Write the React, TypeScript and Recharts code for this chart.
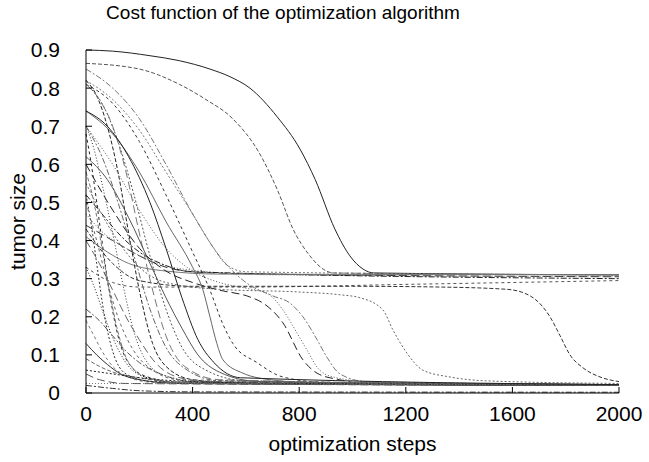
import { LineChart, Line, XAxis, YAxis } from "recharts";

const stepTicks = [0, 400, 800, 1200, 1600, 2000];
const sizeTicks = [0, 0.1, 0.2, 0.3, 0.4, 0.5, 0.6, 0.7, 0.8, 0.9];

// [step, tumor size] knots, one list per run

// runs that end on the upper plateau (~0.31)
const plateauRuns = [
  [[0, 0.9], [100, 0.897], [240, 0.885], [350, 0.872], [465, 0.85], [540, 0.83], [615, 0.8], [717, 0.725], [803, 0.64], [860, 0.56], [934, 0.43], [990, 0.36], [1040, 0.325], [1080, 0.315], [2000, 0.31]],
  [[0, 0.865], [200, 0.85], [350, 0.81], [450, 0.77], [550, 0.72], [650, 0.63], [720, 0.53], [777, 0.43], [840, 0.36], [890, 0.325], [930, 0.315], [2000, 0.31]],
  [[0, 0.82], [100, 0.77], [200, 0.69], [300, 0.58], [400, 0.47], [470, 0.39], [530, 0.335], [600, 0.318], [2000, 0.31]],
  [[0, 0.44], [100, 0.4], [200, 0.36], [300, 0.33], [400, 0.318], [600, 0.313], [2000, 0.305]],
  [[0, 0.47], [50, 0.43], [150, 0.38], [250, 0.345], [400, 0.322], [700, 0.31], [2000, 0.305]],
  [[0, 0.52], [60, 0.47], [120, 0.42], [200, 0.37], [280, 0.34], [400, 0.318], [2000, 0.3]],
  [[0, 0.33], [100, 0.29], [200, 0.278], [600, 0.278], [1200, 0.285], [2000, 0.295]],
  [[0, 0.41], [80, 0.37], [160, 0.34], [300, 0.32], [500, 0.312], [2000, 0.31]],
];

// runs that sit on a shoulder and drop late
const lateRuns = [
  [[0, 0.43], [100, 0.34], [200, 0.295], [400, 0.28], [1000, 0.28], [1330, 0.278], [1580, 0.272], [1666, 0.255], [1741, 0.2], [1779, 0.15], [1816, 0.1], [1865, 0.066], [1929, 0.042], [2000, 0.03]],
  [[0, 0.55], [100, 0.42], [200, 0.33], [300, 0.29], [500, 0.272], [800, 0.265], [950, 0.258], [1028, 0.25], [1114, 0.218], [1152, 0.165], [1204, 0.105], [1264, 0.06], [1366, 0.042], [1500, 0.032], [2000, 0.025]],
  [[0, 0.6], [100, 0.48], [200, 0.38], [300, 0.32], [400, 0.29], [500, 0.27], [615, 0.252], [664, 0.236], [739, 0.184], [814, 0.087], [867, 0.052], [950, 0.035], [1028, 0.026], [2000, 0.022]],
  [[0, 0.7], [100, 0.6], [200, 0.48], [300, 0.38], [400, 0.32], [500, 0.29], [600, 0.275], [679, 0.262], [739, 0.218], [792, 0.157], [829, 0.113], [867, 0.068], [927, 0.042], [1100, 0.028], [2000, 0.022]],
  [[0, 0.85], [100, 0.8], [200, 0.72], [300, 0.6], [400, 0.47], [500, 0.36], [600, 0.29], [700, 0.255], [765, 0.236], [814, 0.2], [867, 0.14], [904, 0.094], [953, 0.05], [1050, 0.03], [2000, 0.022]],
];

const midRuns = [
  [[0, 0.81], [100, 0.76], [200, 0.66], [300, 0.52], [400, 0.37], [465, 0.27], [514, 0.18], [551, 0.13], [641, 0.08], [739, 0.042], [900, 0.028], [2000, 0.022]],
  [[0, 0.74], [100, 0.68], [200, 0.58], [300, 0.45], [400, 0.33], [439, 0.27], [465, 0.2], [491, 0.13], [514, 0.087], [589, 0.052], [702, 0.034], [900, 0.025], [2000, 0.02]],
];

// runs that collapse quickly to the floor (~0.02)
const fastRuns = [
  [[0, 0.82], [40, 0.78], [80, 0.7], [120, 0.58], [160, 0.42], [200, 0.27], [250, 0.13], [300, 0.07], [400, 0.035], [600, 0.025], [2000, 0.02]],
  [[0, 0.81], [60, 0.76], [120, 0.66], [180, 0.52], [240, 0.36], [300, 0.22], [360, 0.12], [450, 0.06], [600, 0.032], [2000, 0.02]],
  [[0, 0.81], [50, 0.77], [100, 0.7], [150, 0.58], [200, 0.42], [250, 0.27], [300, 0.15], [370, 0.07], [500, 0.035], [2000, 0.02]],
  [[0, 0.7], [30, 0.64], [60, 0.55], [100, 0.42], [140, 0.28], [180, 0.16], [230, 0.08], [300, 0.045], [450, 0.028], [2000, 0.02]],
  [[0, 0.7], [60, 0.62], [120, 0.5], [180, 0.36], [240, 0.22], [300, 0.12], [380, 0.06], [500, 0.032], [2000, 0.022]],
  [[0, 0.68], [20, 0.6], [50, 0.45], [80, 0.3], [110, 0.18], [150, 0.09], [220, 0.045], [350, 0.028], [2000, 0.02]],
  [[0, 0.62], [80, 0.56], [160, 0.46], [240, 0.34], [300, 0.25], [360, 0.17], [420, 0.1], [500, 0.055], [650, 0.03], [2000, 0.022]],
  [[0, 0.58], [30, 0.5], [60, 0.38], [90, 0.26], [120, 0.16], [160, 0.08], [230, 0.04], [400, 0.025], [2000, 0.02]],
  [[0, 0.52], [20, 0.44], [40, 0.34], [70, 0.2], [100, 0.11], [150, 0.05], [250, 0.03], [2000, 0.02]],
  [[0, 0.4], [50, 0.34], [100, 0.27], [150, 0.2], [200, 0.14], [260, 0.08], [330, 0.045], [450, 0.03], [2000, 0.022]],
  [[0, 0.33], [30, 0.28], [70, 0.2], [110, 0.13], [160, 0.07], [230, 0.04], [350, 0.027], [2000, 0.02]],
  [[0, 0.22], [50, 0.19], [100, 0.15], [150, 0.11], [200, 0.08], [280, 0.05], [400, 0.03], [2000, 0.022]],
  [[0, 0.19], [30, 0.15], [60, 0.11], [100, 0.07], [150, 0.045], [250, 0.028], [2000, 0.02]],
  [[0, 0.13], [40, 0.1], [80, 0.075], [130, 0.05], [200, 0.035], [350, 0.025], [2000, 0.02]],
  [[0, 0.09], [50, 0.07], [100, 0.055], [200, 0.04], [300, 0.03], [500, 0.025], [2000, 0.02]],
  [[0, 0.06], [100, 0.05], [200, 0.04], [400, 0.03], [800, 0.025], [2000, 0.022]],
  [[0, 0.05], [50, 0.035], [150, 0.025], [2000, 0.02]],
  [[0, 0.025], [2000, 0.022]],
  [[0, 0.02], [100, 0.012], [200, 0.006], [400, 0.003], [2000, 0.002]],
  [[0, 0.5], [40, 0.4], [80, 0.29], [130, 0.18], [180, 0.11], [250, 0.06], [350, 0.035], [2000, 0.022]],
  [[0, 0.74], [80, 0.7], [160, 0.62], [240, 0.5], [300, 0.38], [360, 0.25], [420, 0.14], [480, 0.08], [580, 0.04], [2000, 0.022]],
];

const allRuns = [...plateauRuns, ...lateRuns, ...midRuns, ...fastRuns];

const dashes = ["", "4 2", "2 2", "8 4", "1 2", "6 2 2 2", "3 3"];
const greys = ["#222", "#555", "#777", "#333", "#666"];

const font = '"Liberation Sans", Arial, sans-serif';

export default function App() {
  return (
    <div style={{ position: "absolute", left: 0, top: 0, width: 649, height: 462, background: "#fff", fontFamily: font }}>
      <div style={{ position: "absolute", left: 0, top: 2, width: 566, textAlign: "center", fontSize: 19, color: "#000" }}>
        Cost function of the optimization algorithm
      </div>
      <LineChart width={649} height={462} margin={{ top: 50, right: 30, bottom: 0, left: 0 }}>
        <XAxis
          type="number"
          dataKey="s"
          domain={[0, 2000]}
          ticks={stepTicks}
          height={69}
          tickSize={-6}
          tickMargin={19}
          stroke="#000"
          tick={{ fill: "#000", fontSize: 21, fontFamily: font }}
          label={{ value: "optimization steps", position: "insideBottom", offset: 11, fill: "#000", fontSize: 21, fontFamily: font }}
        />
        <YAxis
          type="number"
          domain={[0, 0.9]}
          ticks={sizeTicks}
          width={86}
          tickSize={-6}
          tickMargin={32}
          stroke="#000"
          tickFormatter={(v: number) => (v === 0 ? "0" : v.toFixed(1))}
          tick={{ fill: "#000", fontSize: 21, fontFamily: font }}
          label={{ value: "tumor size", angle: -90, position: "insideLeft", offset: 18, fill: "#000", fontSize: 21, fontFamily: font, style: { textAnchor: "middle" } }}
        />
        {allRuns.map((run, i) => (
          <Line
            key={i}
            name={`run${i}`}
            data={run.map(([s, v]) => ({ s, v }))}
            dataKey="v"
            type="monotone"
            stroke={greys[i % greys.length]}
            strokeDasharray={dashes[i % dashes.length]}
            strokeWidth={1}
            dot={false}
            activeDot={false}
            isAnimationActive={false}
          />
        ))}
      </LineChart>
    </div>
  );
}
